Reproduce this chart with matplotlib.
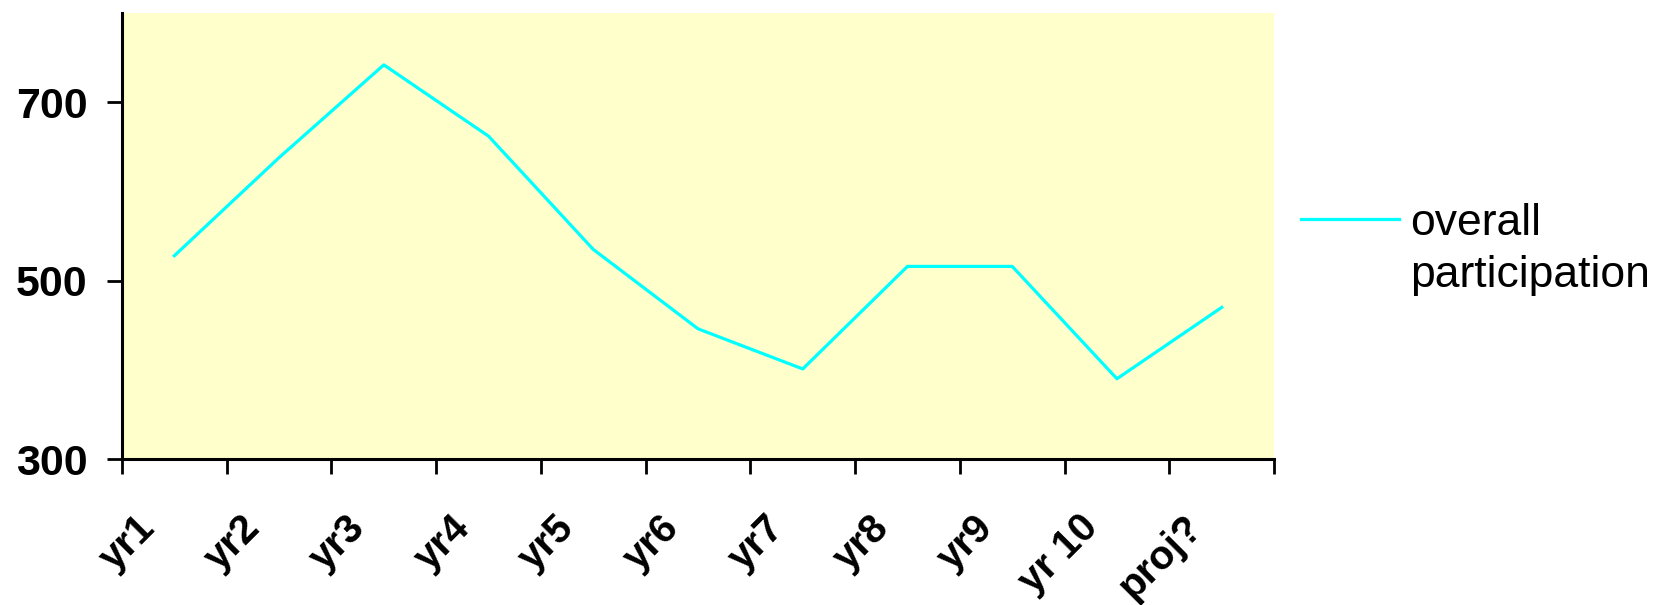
import matplotlib.pyplot as plt
import matplotlib.transforms as mtransforms
import numpy as np

categories = ['yr1', 'yr2', 'yr3', 'yr4', 'yr5', 'yr6', 'yr7', 'yr8', 'yr9', 'yr 10', 'proj?']
participation = [528, 638, 742, 662, 535, 446, 401, 516, 516, 390, 470]
yticks = [300, 500, 700]

plt.rcParams['font.family'] = ['Liberation Sans', 'DejaVu Sans']

fig = plt.figure(figsize=(16.6, 6.05), dpi=100)
ax = fig.add_axes([0.0735, 0.2413, 0.694, 0.737])
ax.set_facecolor('#FFFFCC')

x = np.arange(len(categories))
ax.plot(x, participation, color='#00FFFF', linewidth=2.3, label='overall\nparticipation')

ax.set_xlim(-0.5, len(categories) - 0.5)
ax.set_ylim(300, 800)
ax.set_yticks(yticks)
ax.set_yticklabels([str(v) for v in yticks], fontsize=31, fontweight='bold')

# boundary ticks without labels, category labels on minor ticks
ax.set_xticks(np.arange(len(categories) + 1) - 0.5)
ax.set_xticklabels([])
ax.set_xticks(x, minor=True)
ax.set_xticklabels(categories, minor=True, rotation=45, ha='right', va='center',
                   rotation_mode='anchor', fontsize=29, fontweight='bold')
ax.tick_params(axis='x', which='major', direction='out', length=11, width=2)
ax.tick_params(axis='x', which='minor', length=0, pad=45)
ax.tick_params(axis='y', direction='out', length=11, width=2, pad=14)

# nudge category labels left (after tick_params, which resets transforms)
shift = mtransforms.ScaledTranslation(-0.25, 0, fig.dpi_scale_trans)
for lbl in ax.get_xticklabels(minor=True):
    lbl.set_transform(lbl.get_transform() + shift)

for side in ['top', 'right']:
    ax.spines[side].set_visible(False)
for side in ['left', 'bottom']:
    ax.spines[side].set_linewidth(2.2)

leg = ax.legend(loc='center left', bbox_to_anchor=(0.989, 0.47), frameon=False,
                fontsize=32, handlelength=2.2, handletextpad=0.25)
for t in leg.get_texts():
    t.set_linespacing(1.35)
# put the legend line next to the first line of the label
hl = leg.get_lines()[0]
hl.set_ydata(np.asarray(hl.get_ydata()) + 22)

fig.savefig('out.png', dpi=100)
